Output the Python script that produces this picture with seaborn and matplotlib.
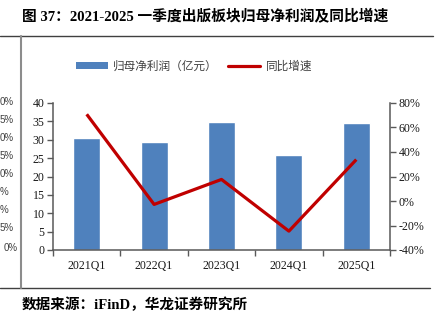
import matplotlib
matplotlib.use("Agg")
import matplotlib.pyplot as plt
from matplotlib.lines import Line2D
from matplotlib.patches import Patch
from matplotlib.ticker import FuncFormatter, FixedLocator
import seaborn as sns
import pandas as pd

quarters = ["2021Q1", "2022Q1", "2023Q1", "2024Q1", "2025Q1"]
profit = [30.4, 29.5, 34.7, 25.9, 34.6]          # 归母净利润（亿元）
growth = [70.8, -2.8, 17.6, -24.6, 33.8]         # 同比增速（%）
left_ticks = [0, 5, 10, 15, 20, 25, 30, 35, 40]
right_ticks = [-40, -20, 0, 20, 40, 60, 80]
side_labels = ["0%", "5%", "0%", "5%", "0%", "%", "%", "5%", "0%"]

df = pd.DataFrame({"quarter": quarters, "profit": profit, "growth": growth})

sns.set_theme(style="white")
plt.rcParams["font.family"] = ["Liberation Serif", "Noto Sans CJK SC"]

W, H = 440, 326
fig = plt.figure(figsize=(W / 100, H / 100), dpi=100)


def fx(px):
    return px / W


def fy(py):
    return 1 - py / H


ax = fig.add_axes([fx(53), fy(250), fx(390) - fx(53), fy(103) - fy(250)])
ax2 = ax.twinx()

bar_color = "#4F81BD"
line_color = "#C00000"
axis_color = "#595959"
text_color = "#1a1a1a"

sns.barplot(data=df, x="quarter", y="profit", order=quarters, color=bar_color,
            width=0.4, saturation=1, ax=ax)
sns.pointplot(data=df, x="quarter", y="growth", order=quarters, color=line_color,
              markers="", linestyles="-", ax=ax2)
for ln in ax2.lines:
    ln.set_linewidth(2.3)
    ln.set_solid_capstyle("butt")

ax.set_ylim(0, 40)
ax2.set_ylim(-40, 80)
ax.set_xlim(-0.5, 4.5)
ax.set_yticks(left_ticks)
ax2.set_yticks(right_ticks)
ax2.yaxis.set_major_formatter(FuncFormatter(lambda v, p: f"{v:.0f}%"))

# category labels sit between boundary tick marks
ax.xaxis.set_major_locator(FixedLocator([i - 0.5 for i in range(len(quarters) + 1)]))
ax.xaxis.set_minor_locator(FixedLocator(list(range(len(quarters)))))
ax.set_xticklabels([""] * (len(quarters) + 1))
ax.set_xticklabels(quarters, minor=True)
ax.tick_params(axis="x", which="major", direction="out", length=4, width=1,
               color=axis_color, bottom=True)
ax.tick_params(axis="x", which="minor", length=0, pad=7, labelsize=8.6,
               labelcolor=text_color)
ax.tick_params(axis="y", direction="out", length=4, width=1, color=axis_color,
               left=True, labelsize=8.6, labelcolor=text_color, pad=2)
ax2.tick_params(axis="y", direction="out", length=4, width=1, color=axis_color,
                right=True, labelsize=8.6, labelcolor=text_color, pad=2)

ax.set_xlabel("")
ax.set_ylabel("")
ax2.set_ylabel("")
ax2.set_xlabel("")

for a in (ax, ax2):
    for side in ("top", "left", "right", "bottom"):
        a.spines[side].set_visible(False)
ax.spines["left"].set_visible(True)
ax.spines["bottom"].set_visible(True)
ax2.spines["right"].set_visible(True)
for sp in (ax.spines["left"], ax.spines["bottom"], ax2.spines["right"]):
    sp.set_color(axis_color)
    sp.set_linewidth(1.1)
ax.set_zorder(1)
ax2.set_zorder(2)
ax.patch.set_visible(False)

handles = [Patch(facecolor=bar_color, edgecolor="none"),
           Line2D([0], [0], color=line_color, lw=2.3)]
fig.legend(handles, ["归母净利润（亿元）", "同比增速"], ncol=2,
           loc="center left", bbox_to_anchor=(fx(76), fy(66)), frameon=False,
           prop={"family": ["Noto Sans CJK SC"], "size": 8.4},
           labelcolor="#404040", handlelength=2.7, handleheight=0.5,
           handletextpad=0.5, columnspacing=0.9, borderaxespad=0, borderpad=0)

fig.text(fx(22), fy(17), "图 37：2021-2025 一季度出版板块归母净利润及同比增速",
         fontsize=10.6, fontweight="bold", va="center", ha="left", color="#000000",
         family=["Liberation Serif", "Noto Sans CJK SC"])
fig.text(fx(22), fy(305), "数据来源：iFinD，华龙证券研究所",
         fontsize=10.5, fontweight="bold", va="center", ha="left", color="#000000",
         family=["Liberation Serif", "Noto Sans CJK SC"])

# frame rules of the report page
fig.add_artist(Line2D([0, fx(433)], [fy(35.5)] * 2, color="#404040", lw=1.0))
fig.add_artist(Line2D([0, fx(430)], [fy(288)] * 2, color="#404040", lw=1.0))
fig.add_artist(Line2D([fx(21)] * 2, [fy(35.5), fy(288)], color="#8c8c8c", lw=1.5))

# axis labels of the adjacent panel at the page edge
side_y = [102, 120, 138, 156, 174, 192, 210, 228, 248]
side_x = [0, 0, 0, 0, 0, 0, 0, 0, 4]
for lab, yy, xx in zip(side_labels, side_y, side_x):
    fig.text(fx(xx), fy(yy), lab, ha="left", va="center", fontsize=7,
             color="#404040", family=["Liberation Sans"])

fig.savefig("out.png", dpi=100)
